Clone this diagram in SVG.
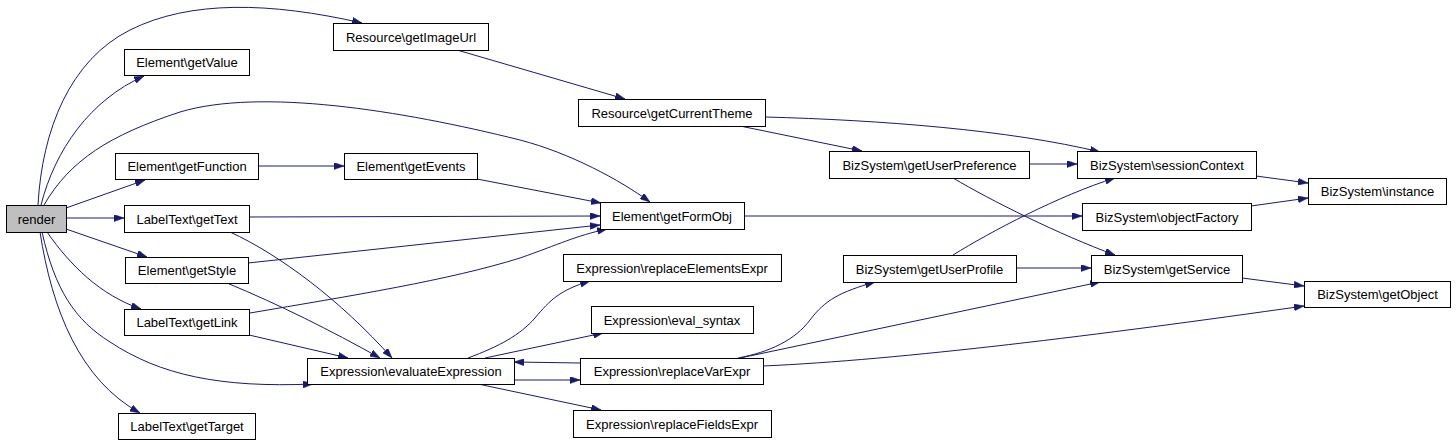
<svg xmlns="http://www.w3.org/2000/svg" width="1456" height="446" viewBox="0 0 1456 446">
<style>
.n rect{fill:#fff;stroke:#000;stroke-width:1}
.n.root rect{fill:#bfbfbf}
.n text{font-family:"Liberation Sans",Arial,sans-serif;font-size:13px;fill:#000;text-anchor:middle}
.e path{fill:none;stroke:#191970;stroke-width:1;marker-end:url(#ah)}
</style>
<defs>
<marker id="ah" viewBox="0 0 10 7" refX="10" refY="3.5" markerWidth="10" markerHeight="7" markerUnits="userSpaceOnUse" orient="auto">
<path d="M0,0 L10,3.5 L0,7 z" fill="#191970" stroke="#191970" stroke-width="0.5"/>
</marker>
</defs>
<rect width="1456" height="446" fill="#fff"/>
<g id="connectors" class="e">
<path d="M38,205 C42,130 70,60 130,30 C190,0 270,2 362,23"/>
<path d="M41,205 C55,150 90,100 144,76"/>
<path d="M44,205 C70,160 110,135 180,112 C260,88 400,110 520,140 C570,153 620,180 650,202"/>
<path d="M66,208 L145,180"/>
<path d="M66,218 L124,218"/>
<path d="M66,229 L147,257"/>
<path d="M47,232 C70,265 100,295 141,309"/>
<path d="M42,232 C55,290 75,320 110,342 C160,375 220,388 313,384"/>
<path d="M40,232 C52,310 80,380 140,413"/>
<path d="M457,50 L625,99"/>
<path d="M765,117 C880,120 1010,130 1100,152"/>
<path d="M740,126 L862,151"/>
<path d="M258,166 L344,166"/>
<path d="M477,179 L601,203"/>
<path d="M249,217 L600,216"/>
<path d="M248,263 L600,225"/>
<path d="M250,313 C350,296 450,280 520,258 C560,244 575,236 607,229"/>
<path d="M230,232 C280,255 340,300 392,358"/>
<path d="M227,283 C280,305 330,330 380,358"/>
<path d="M249,335 L348,358"/>
<path d="M744,216 L1082,216"/>
<path d="M468,358 C500,346 520,335 535,318 C550,300 560,290 590,281"/>
<path d="M485,358 L603,333"/>
<path d="M514,380 L580,380"/>
<path d="M580,363 L514,362"/>
<path d="M478,384 L601,410"/>
<path d="M738,358 C770,352 795,340 810,320 C825,300 840,292 875,282"/>
<path d="M740,358 L1100,282"/>
<path d="M763,366 C900,360 1100,335 1304,306"/>
<path d="M1029,164 L1077,164"/>
<path d="M953,178 C990,200 1060,235 1115,255"/>
<path d="M953,255 C990,232 1060,195 1115,178"/>
<path d="M1016,268 L1091,268"/>
<path d="M1256,176 L1308,183"/>
<path d="M1251,206 L1308,198"/>
<path d="M1242,278 L1304,286"/>
</g>
<g id="render" class="n root"><rect x="6.5" y="205.5" width="60" height="27"/><text x="36.5" y="223.5">render</text></g>
<g id="getValue" class="n"><rect x="124.5" y="49.5" width="125" height="26"/><text x="187" y="67">Element\getValue</text></g>
<g id="getFunction" class="n"><rect x="115.5" y="153.5" width="143" height="26"/><text x="187" y="171">Element\getFunction</text></g>
<g id="getText" class="n"><rect x="124.5" y="205.5" width="125" height="27"/><text x="187" y="223.5">LabelText\getText</text></g>
<g id="getStyle" class="n"><rect x="125.5" y="257.5" width="123" height="26"/><text x="187" y="275">Element\getStyle</text></g>
<g id="getLink" class="n"><rect x="124.5" y="309.5" width="125" height="26"/><text x="187" y="327">LabelText\getLink</text></g>
<g id="getTarget" class="n"><rect x="118.5" y="413.5" width="137" height="26"/><text x="187" y="431">LabelText\getTarget</text></g>
<g id="getImageUrl" class="n"><rect x="333.5" y="23.5" width="155" height="27"/><text x="411" y="41.5">Resource\getImageUrl</text></g>
<g id="getEvents" class="n"><rect x="344.5" y="153.5" width="133" height="26"/><text x="411" y="171">Element\getEvents</text></g>
<g id="evaluateExpression" class="n"><rect x="307.5" y="358.5" width="207" height="26"/><text x="411" y="376">Expression\evaluateExpression</text></g>
<g id="getCurrentTheme" class="n"><rect x="578.5" y="99.5" width="187" height="27"/><text x="672" y="117.5">Resource\getCurrentTheme</text></g>
<g id="getFormObj" class="n"><rect x="600.5" y="202.5" width="144" height="27"/><text x="672" y="220.5">Element\getFormObj</text></g>
<g id="replaceElementsExpr" class="n"><rect x="563.5" y="254.5" width="218" height="27"/><text x="672" y="272.5">Expression\replaceElementsExpr</text></g>
<g id="eval_syntax" class="n"><rect x="591.5" y="306.5" width="162" height="27"/><text x="672" y="324.5">Expression\eval_syntax</text></g>
<g id="replaceVarExpr" class="n"><rect x="580.5" y="358.5" width="183" height="26"/><text x="672" y="376">Expression\replaceVarExpr</text></g>
<g id="replaceFieldsExpr" class="n"><rect x="573.5" y="410.5" width="198" height="27"/><text x="672" y="428.5">Expression\replaceFieldsExpr</text></g>
<g id="getUserPreference" class="n"><rect x="829.5" y="151.5" width="200" height="27"/><text x="929.5" y="169.5">BizSystem\getUserPreference</text></g>
<g id="getUserProfile" class="n"><rect x="843.5" y="255.5" width="173" height="27"/><text x="929.5" y="273.5">BizSystem\getUserProfile</text></g>
<g id="sessionContext" class="n"><rect x="1077.5" y="151.5" width="179" height="27"/><text x="1167" y="169.5">BizSystem\sessionContext</text></g>
<g id="objectFactory" class="n"><rect x="1082.5" y="203.5" width="169" height="27"/><text x="1167" y="221.5">BizSystem\objectFactory</text></g>
<g id="getService" class="n"><rect x="1091.5" y="255.5" width="151" height="27"/><text x="1167" y="273.5">BizSystem\getService</text></g>
<g id="instance" class="n"><rect x="1308.5" y="178.5" width="138" height="26"/><text x="1377.5" y="196">BizSystem\instance</text></g>
<g id="getObject" class="n"><rect x="1304.5" y="281.5" width="146" height="26"/><text x="1377.5" y="299">BizSystem\getObject</text></g>
</svg>
